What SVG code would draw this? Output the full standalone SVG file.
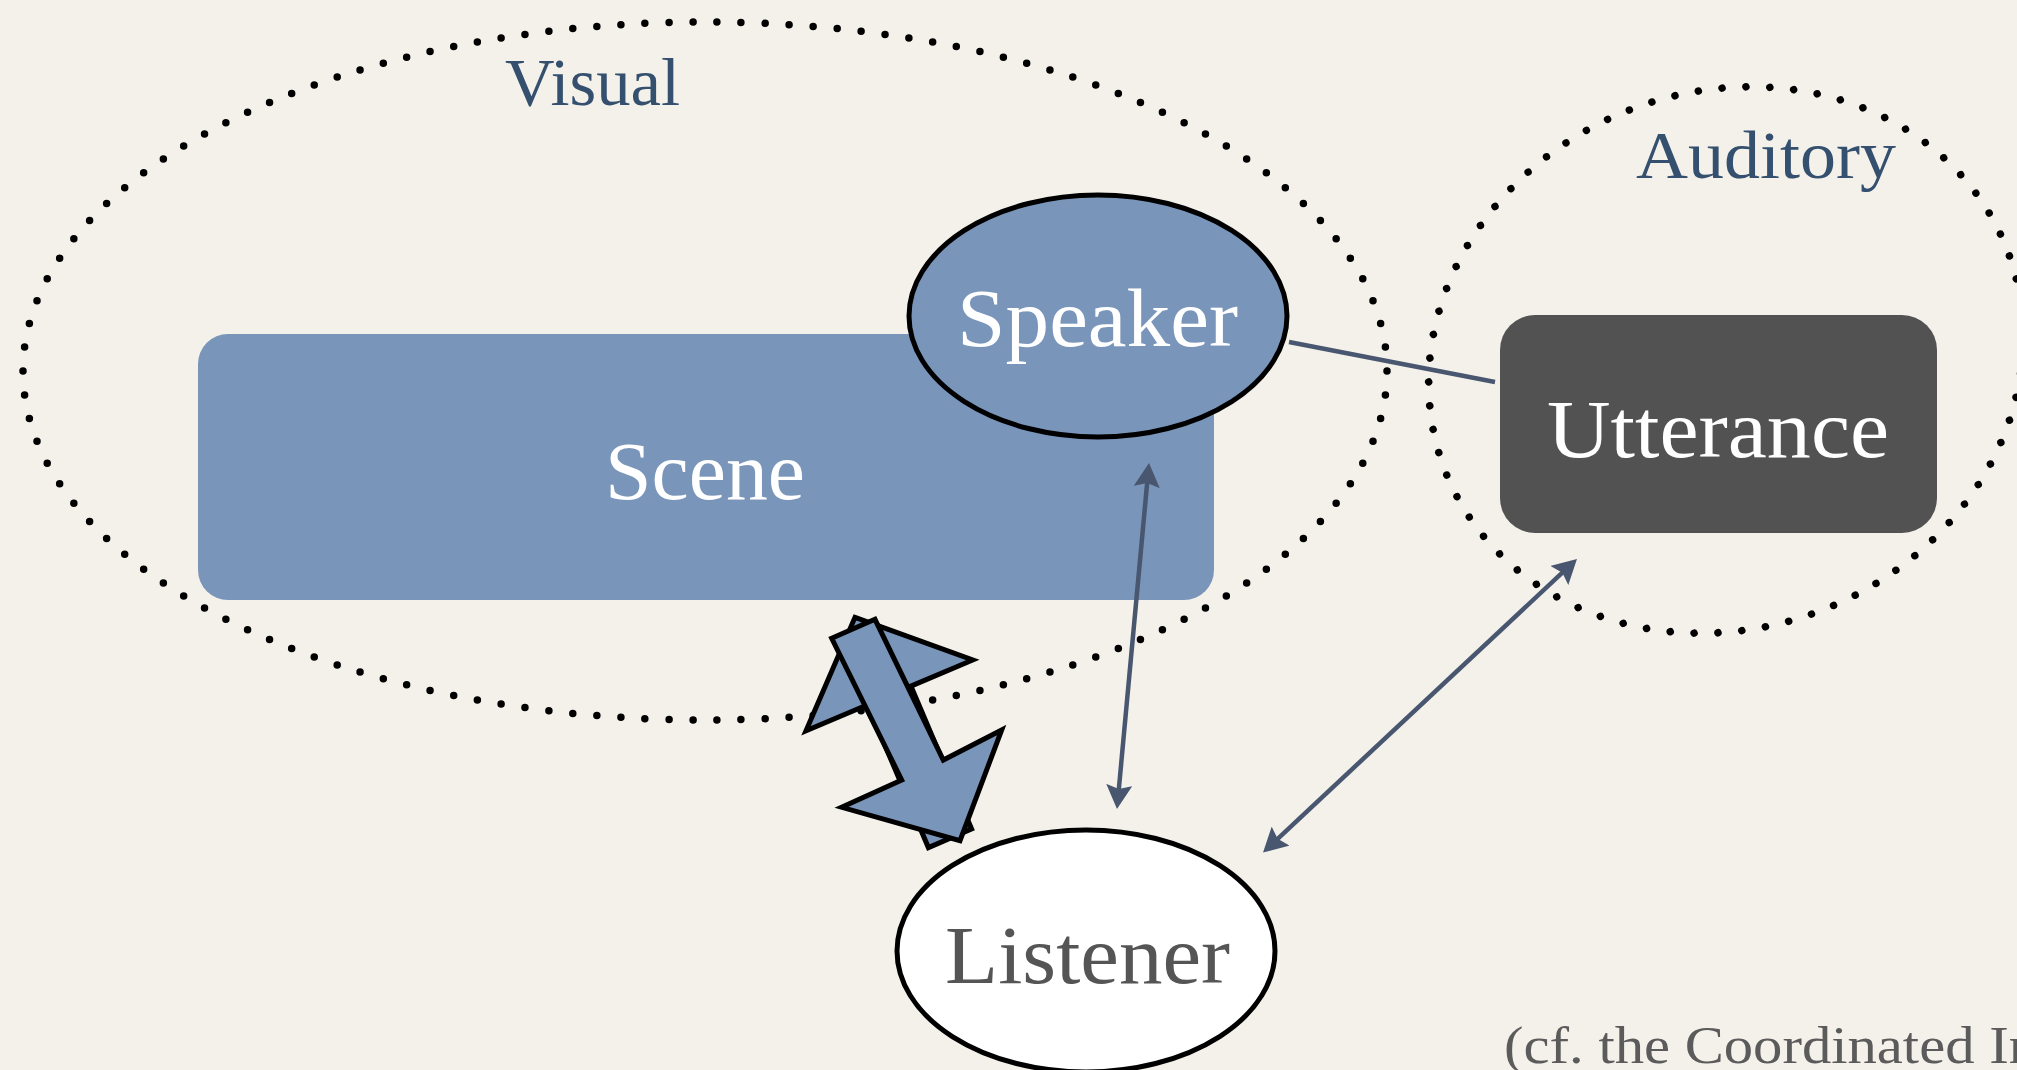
<svg xmlns="http://www.w3.org/2000/svg" width="2017" height="1070" viewBox="0 0 2017 1070">
  <style>
    .dots { fill: none; stroke: #000; stroke-width: 7.5; stroke-linecap: round; stroke-dasharray: 0 1; }
    .blue { fill: #7995ba; }
    .outline { stroke: #000; stroke-width: 5; }
    .label { font-family: "Liberation Serif", "Times New Roman", serif; font-size: 83px; }
    .zone { font-family: "Liberation Serif", "Times New Roman", serif; font-size: 67px; fill: #34506e; }
    .link { fill: none; stroke: #48566f; stroke-width: 4.5; }
    .block { fill: #7995ba; stroke: #000; stroke-width: 5; stroke-linejoin: miter; }
  </style>
  <defs>
    <marker id="head" viewBox="0 0 24 26" markerWidth="24" markerHeight="26" refX="12" refY="13" markerUnits="userSpaceOnUse" orient="auto-start-reverse">
      <path d="M0,0 L24,13 L0,26 L4,13 Z" fill="#48566f"/>
    </marker>
  </defs>

  <!-- paper background -->
  <rect x="0" y="0" width="2017" height="1070" fill="#f4f1eb"/>

  <!-- modality zones (dotted outlines) -->
  <g id="zone-visual">
    <path class="dots" pathLength="138" d="M23,371 a682,349 0 1,0 1364,0 a682,349 0 1,0 -1364,0"/>
    <text class="zone" x="505" y="105" textLength="175" lengthAdjust="spacingAndGlyphs">Visual</text>
  </g>
  <g id="zone-auditory">
    <path class="dots" pathLength="75" transform="translate(1726,360) rotate(-22.4)" d="M-302,0 a302,268 0 1,0 604,0 a302,268 0 1,0 -604,0"/>
    <text class="zone" x="1636" y="178" textLength="260" lengthAdjust="spacingAndGlyphs">Auditory</text>
  </g>

  <!-- nodes -->
  <g id="node-scene">
    <rect class="blue" x="198" y="334" width="1016" height="266" rx="30" ry="30"/>
    <text class="label" x="605" y="499" fill="#ffffff" textLength="200" lengthAdjust="spacingAndGlyphs">Scene</text>
  </g>
  <g id="node-speaker">
    <ellipse class="blue outline" cx="1098" cy="316" rx="189" ry="121"/>
    <text class="label" x="957" y="346" fill="#ffffff" textLength="281" lengthAdjust="spacingAndGlyphs">Speaker</text>
  </g>
  <g id="node-utterance">
    <rect x="1500" y="315" width="437" height="218" rx="35" ry="35" fill="#525252"/>
    <text class="label" x="1547" y="457" fill="#ffffff" textLength="342" lengthAdjust="spacingAndGlyphs">Utterance</text>
  </g>

  <!-- connectors -->
  <g id="connectors">
    <line class="link" x1="1289" y1="342" x2="1495" y2="382"/>
    <line class="link" x1="1147.9" y1="475" x2="1118.1" y2="797" marker-start="url(#head)" marker-end="url(#head)"/>
    <line class="link" x1="1568.2" y1="567.2" x2="1271.8" y2="844.3" marker-start="url(#head)" marker-end="url(#head)"/>
    <!-- pair of block arrows between Scene and Listener -->
    <polygon class="block" points="855,617.3 972.7,660 910.9,686.1 971.6,829 928.4,847.6 867.7,704.7 806,730.7"/>
    <polygon class="block" points="831.7,638.3 875,619.3 943.3,760 1001.7,730 960,840.7 841.7,807.3 901.7,780"/>
  </g>

  <g id="node-listener">
    <ellipse class="outline" cx="1086" cy="951" rx="189" ry="121" fill="#ffffff"/>
    <text class="label" x="945" y="983" fill="#555555" textLength="285" lengthAdjust="spacingAndGlyphs">Listener</text>
  </g>

  <!-- source note -->
  <text x="1504" y="1063" font-family="Liberation Serif, 'Times New Roman', serif" font-size="52" fill="#5b5b5b" textLength="534" lengthAdjust="spacingAndGlyphs">(cf. the Coordinated In</text>
</svg>
